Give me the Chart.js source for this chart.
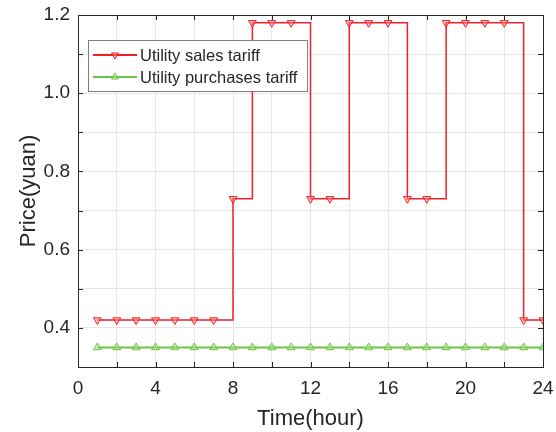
<!DOCTYPE html>
<html>
<head>
<meta charset="utf-8">
<script src="https://cdn.jsdelivr.net/npm/chart.js@4.4.1/dist/chart.umd.min.js"></script>
<style>
  html, body { margin: 0; padding: 0; background: #fff; }
  #wrap { width: 556px; height: 432px; }
</style>
</head>
<body>
<div id="wrap"><canvas id="myChart" width="556" height="432"></canvas></div>
<script>
// hours of the day
const hours = [1,2,3,4,5,6,7,8,9,10,11,12,13,14,15,16,17,18,19,20,21,22,23,24];
// price (yuan)
const salesTariff = [0.42,0.42,0.42,0.42,0.42,0.42,0.42,0.73,1.18,1.18,1.18,0.73,
                     0.73,1.18,1.18,1.18,0.73,0.73,1.18,1.18,1.18,1.18,0.42,0.42];
const purchaseTariff = [0.35,0.35,0.35,0.35,0.35,0.35,0.35,0.35,0.35,0.35,0.35,0.35,
                        0.35,0.35,0.35,0.35,0.35,0.35,0.35,0.35,0.35,0.35,0.35,0.35];
const seriesNames = ['Utility sales tariff', 'Utility purchases tariff'];
const xTicks = [0, 4, 8, 12, 16, 20, 24];
const yTicks = [0.4, 0.6, 0.8, 1.0, 1.2];

const FONT = "'Liberation Sans', Arial, sans-serif";
const RED = 'rgb(240,32,40)';
const GREEN = 'rgb(110,195,70)';

// box, inward ticks and legend, matlab style
const boxPlugin = {
  id: 'box',
  afterDatasetsDraw(chart) {
    const { ctx, chartArea: a, scales } = chart;
    ctx.save();
    ctx.strokeStyle = '#262626';
    ctx.lineWidth = 1;
    ctx.beginPath();
    for (let h = 0; h <= 24; h += 2) {
      const x = Math.round(scales.x.getPixelForValue(h)) + 0.5;
      ctx.moveTo(x, a.bottom); ctx.lineTo(x, a.bottom - 5);
      ctx.moveTo(x, a.top); ctx.lineTo(x, a.top + 5);
    }
    for (let k = 3; k <= 12; k++) {
      const y = Math.round(scales.y.getPixelForValue(k / 10)) + 0.5;
      ctx.moveTo(a.left, y); ctx.lineTo(a.left + 5, y);
      ctx.moveTo(a.right, y); ctx.lineTo(a.right - 5, y);
    }
    ctx.stroke();
    ctx.strokeRect(Math.round(a.left) + 0.5, Math.round(a.top) + 0.5,
                   Math.round(a.right - a.left), Math.round(a.bottom - a.top));

    // legend
    const lx = 88, ly = 40, lw = 219, lh = 51;
    ctx.fillStyle = '#fff';
    ctx.fillRect(lx, ly, lw, lh);
    ctx.strokeStyle = '#7f7f7f';
    ctx.strokeRect(lx + 0.5, ly + 0.5, lw, lh);
    ctx.font = '16.5px ' + FONT;
    ctx.textBaseline = 'middle';
    chart.data.datasets.forEach((ds, i) => {
      const y = ly + 15 + i * 22;
      ctx.strokeStyle = ds.borderColor;
      ctx.lineWidth = 2;
      ctx.beginPath();
      ctx.moveTo(lx + 5, y); ctx.lineTo(lx + 49, y);
      ctx.stroke();
      ctx.lineWidth = 1;
      ctx.fillStyle = ds.pointBackgroundColor;
      Chart.helpers.drawPoint(ctx, {
        pointStyle: 'triangle', rotation: ds.pointRotation, radius: 4, borderWidth: 1
      }, lx + 27, y);
      ctx.fillStyle = '#262626';
      ctx.fillText(ds.label, lx + 52, y + 1);
    });
    ctx.restore();
  }
};

const ctx = document.getElementById('myChart').getContext('2d');
const myChart = new Chart(ctx, {
  type: 'line',
  data: {
    datasets: [
      {
        label: seriesNames[0],
        data: hours.map((h, i) => ({ x: h, y: salesTariff[i] })),
        borderColor: RED,
        borderWidth: 1.5,
        stepped: 'before',
        pointStyle: 'triangle',
        pointRotation: 180,
        pointRadius: 4.5,
        pointBorderWidth: 1,
        pointBackgroundColor: 'rgba(255,140,140,0.45)',
        pointBorderColor: RED,
      },
      {
        label: seriesNames[1],
        data: hours.map((h, i) => ({ x: h, y: purchaseTariff[i] })),
        borderColor: GREEN,
        borderWidth: 2,
        stepped: 'before',
        pointStyle: 'triangle',
        pointRotation: 0,
        pointRadius: 4.5,
        pointBorderWidth: 1,
        pointBackgroundColor: 'rgba(170,225,140,0.5)',
        pointBorderColor: GREEN,
      },
    ],
  },
  options: {
    responsive: false,
    animation: false,
    layout: { padding: { left: 0, right: 13, top: 15, bottom: 0 } },
    plugins: { legend: { display: false }, tooltip: { enabled: false } },
    scales: {
      x: {
        type: 'linear',
        min: 0, max: 24,
        afterFit(s) { s.height = 65; s.paddingLeft = 0; s.paddingRight = 0; },
        border: { display: false },
        grid: { color: '#e6e6e6', drawTicks: false },
        ticks: {
          stepSize: 2,
          autoSkip: false,
          maxRotation: 0,
          padding: 10,
          color: '#262626',
          font: { family: FONT, size: 19 },
          callback: (v) => xTicks.includes(v) ? String(v) : '',
        },
        title: {
          display: true, text: 'Time(hour)', color: '#262626',
          font: { family: FONT, size: 22 }, padding: { top: 4, bottom: 0 },
        },
      },
      y: {
        type: 'linear',
        min: 0.3, max: 1.2,
        afterFit(s) { s.width = 78; s.paddingTop = 0; s.paddingBottom = 0; },
        border: { display: false },
        grid: { color: '#e6e6e6', drawTicks: false },
        ticks: {
          stepSize: 0.1,
          autoSkip: false,
          padding: 8,
          color: '#262626',
          font: { family: FONT, size: 19 },
          callback: (v) => yTicks.some(t => Math.abs(t - v) < 1e-6) ? v.toFixed(1) : '',
        },
        title: {
          display: true, text: 'Price(yuan)', color: '#262626',
          font: { family: FONT, size: 22 }, padding: { top: 16, bottom: 0 },
        },
      },
    },
  },
  plugins: [boxPlugin],
});
</script>
</body>
</html>
